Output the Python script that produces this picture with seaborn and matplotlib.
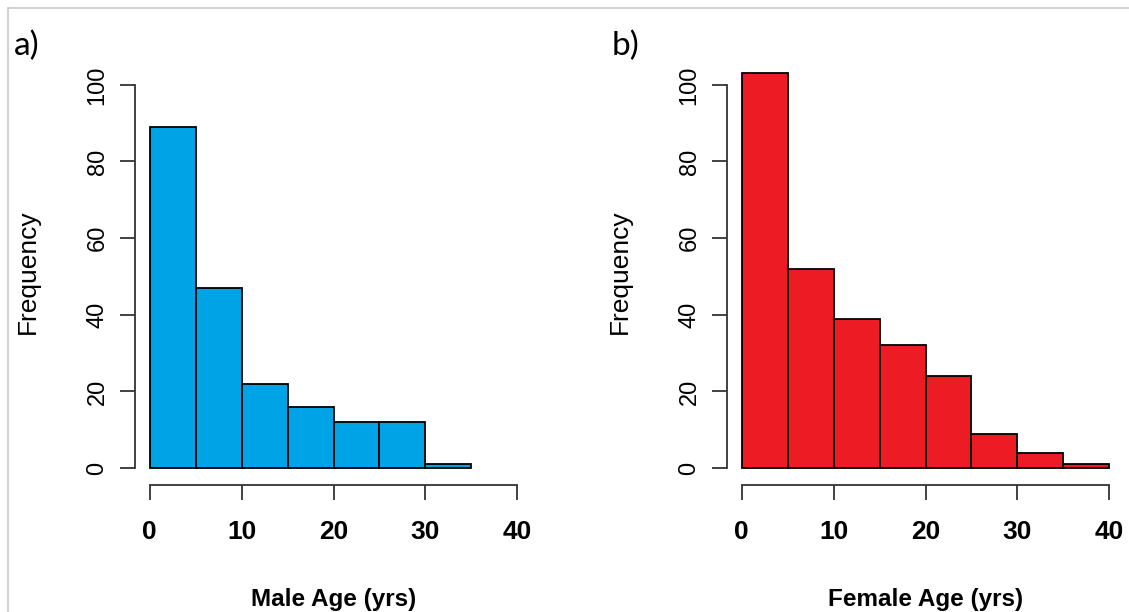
import numpy as np
import matplotlib
matplotlib.use("Agg")
import matplotlib.pyplot as plt
import seaborn as sns
from matplotlib.lines import Line2D

# ── Data ───────────────────────────────────────────────────────
male_bins = [0, 5, 10, 15, 20, 25, 30, 35]
male_counts = [89, 47, 22, 16, 12, 12, 1]
female_bins = [0, 5, 10, 15, 20, 25, 30, 35, 40]
female_counts = [103, 52, 39, 32, 24, 9, 4, 1]

sns.set_style("white")
plt.rcParams['font.family'] = ['Liberation Sans', 'DejaVu Sans']
plt.rcParams['text.color'] = 'black'
plt.rcParams['axes.labelcolor'] = 'black'
plt.rcParams['xtick.color'] = 'black'
plt.rcParams['ytick.color'] = 'black'

fig = plt.figure(figsize=(11.29, 6.12), dpi=100)
W, H = 1129, 612

def px_axes(x0, x1, y_top, y_bot):
    return fig.add_axes([x0 / W, 1 - y_bot / H, (x1 - x0) / W, (y_bot - y_top) / H])

panels = [
    (male_bins, male_counts, '#00A4E6', 'Male Age (yrs)', 'a)', 135, 532, 14),
    (female_bins, female_counts, '#ED1C24', 'Female Age (yrs)', 'b)', 727, 1124, 612),
]

for bins, counts, color, xlabel, tag, x0, x1, tag_x in panels:
    mids = [(a + b) / 2 for a, b in zip(bins[:-1], bins[1:])]
    ax = px_axes(x0, x1, 58, 485)
    sns.histplot(x=mids, weights=counts, bins=bins, color=color, alpha=1,
                 edgecolor='black', linewidth=1.3, ax=ax)
    ax.set_xlim(-1.6, 41.6)
    ax.set_ylim(-4.4, 107)
    ax.set_xticks([0, 10, 20, 30, 40])
    ax.set_yticks([0, 20, 40, 60, 80, 100])
    for s in ['top', 'right']:
        ax.spines[s].set_visible(False)
    ax.spines['left'].set_bounds(0, 100)
    ax.spines['bottom'].set_bounds(0, 40)
    for s in ['left', 'bottom']:
        ax.spines[s].set_color('#333333')
        ax.spines[s].set_linewidth(1.3)
    ax.tick_params(axis='both', direction='out', length=11, width=1.3, color='#333333',
                   labelcolor='black', bottom=True, left=True)
    ax.tick_params(axis='x', labelsize=19, pad=14)
    ax.tick_params(axis='y', labelsize=17, pad=8)
    for lab in ax.get_xticklabels():
        lab.set_fontweight('bold')
    for lab in ax.get_yticklabels():
        lab.set_rotation(90)
        lab.set_va('center')
    ax.set_xlabel(xlabel, fontsize=17.5, fontweight='bold', labelpad=32, color='black')
    ax.set_ylabel('Frequency', fontsize=19, labelpad=34, color='black')
    fig.text(tag_x / W, 1 - 46 / H, tag, fontsize=24, family=['Lato', 'DejaVu Sans'],
             va='center', ha='left', color='black')

# light gray frame on top and left edges
fig.add_artist(Line2D([8 / W, 1], [1 - 8 / H, 1 - 8 / H], color='#c8c8c8', lw=1.2))
fig.add_artist(Line2D([8 / W, 8 / W], [0, 1 - 8 / H], color='#c8c8c8', lw=1.2))

fig.savefig('out.png', dpi=100)
